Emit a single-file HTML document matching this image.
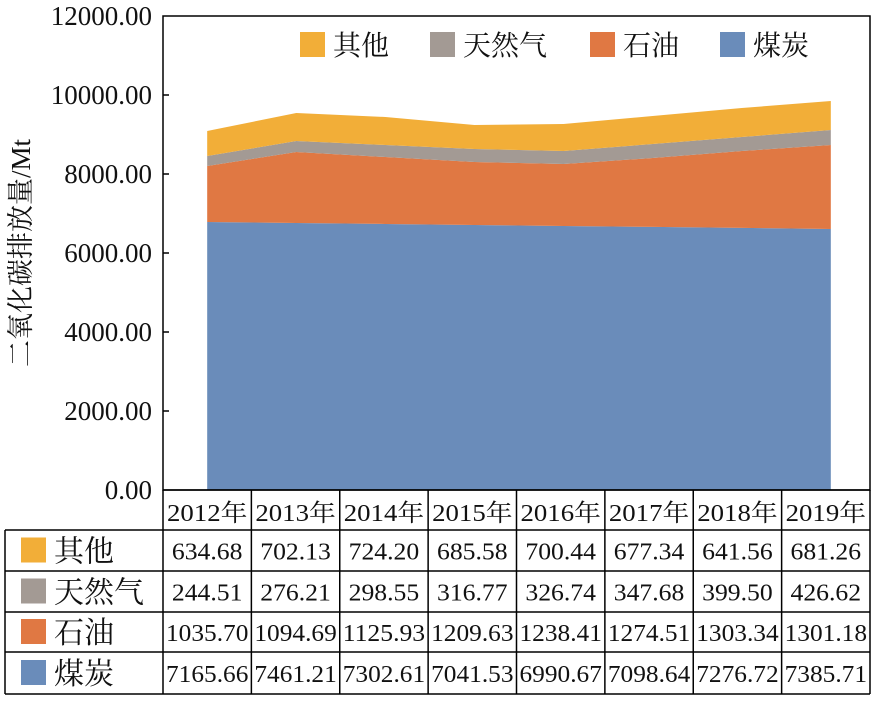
<!DOCTYPE html>
<html><head><meta charset="utf-8">
<style>
body{margin:0;background:#fff;}
svg text{font-family:"Liberation Serif","Noto Serif CJK SC",serif;fill:#111;}
</style></head>
<body>
<svg id="chart" width="873" height="697" xmlns="http://www.w3.org/2000/svg"></svg>
<script>
const years=["2012年","2013年","2014年","2015年","2016年","2017年","2018年","2019年"];
const seriesNames=["其他","天然气","石油","煤炭"];
// plotted layer thicknesses
const coalPlot=[6785,6760,6735,6710,6685,6660,6635,6608];
const oilPlot=[1418,1797,1695,1594,1568,1745,1947,2126];
const gasPlot=[253,278,304,329,329,354,355,380];
const otherPlot=[633,709,709,607,684,709,734,734];
// table values
const otherVals=["634.68","702.13","724.20","685.58","700.44","677.34","641.56","681.26"];
const gasVals=["244.51","276.21","298.55","316.77","326.74","347.68","399.50","426.62"];
const oilVals=["1035.70","1094.69","1125.93","1209.63","1238.41","1274.51","1303.34","1301.18"];
const coalVals=["7165.66","7461.21","7302.61","7041.53","6990.67","7098.64","7276.72","7385.71"];
const yTicks=[0,2000,4000,6000,8000,10000,12000];

const colors={"其他":"#F2AE38","天然气":"#A39A94","石油":"#E07843","煤炭":"#6A8CBA"};
const NS="http://www.w3.org/2000/svg";
const svg=document.getElementById('chart');
function mk(tag,attrs,parent){const e=document.createElementNS(NS,tag);for(const k in attrs)e.setAttribute(k,attrs[k]);(parent||svg).appendChild(e);return e;}
const plotL=163,plotR=870,plotT=16,plotB=490,colW=(plotR-plotL)/8;
const y=v=>plotB-(v/12000)*(plotB-plotT);
const x=i=>plotL+colW*(i+0.5)+(i/7)*5;

// stacked areas
const layers=[["煤炭",coalPlot],["石油",oilPlot],["天然气",gasPlot],["其他",otherPlot]];
let base=years.map(()=>0);
layers.forEach(([name,vals])=>{
  const top=base.map((b,i)=>b+vals[i]);
  let d="M"+x(0)+","+y(top[0]);
  for(let i=1;i<years.length;i++)d+=" L"+x(i)+","+y(top[i]);
  for(let i=years.length-1;i>=0;i--)d+=" L"+x(i)+","+y(base[i]);
  d+=" Z";
  const p=mk('path',{d:d,fill:colors[name]});
  
  
  base=top;
});

// frame
mk('rect',{x:plotL,y:plotT,width:plotR-plotL,height:plotB-plotT,fill:'none',stroke:'#000','stroke-width':1.5});
yTicks.forEach(t=>{
  if(t>0&&t<12000) mk('line',{x1:plotL,y1:y(t),x2:plotL+6,y2:y(t),stroke:'#000','stroke-width':1.5});
  const tx=mk('text',{x:152,y:y(t)+9,'text-anchor':'end','font-size':27});
  tx.textContent=t.toFixed(2);
  
  
});
const yt=mk('text',{x:0,y:0,'font-size':27,'text-anchor':'middle',transform:'translate(30,253) rotate(-90)'});
yt.textContent="二氧化碳排放量/Mt";



// legend
const legX=[300,430,590,720];
seriesNames.forEach((n,i)=>{
  const g=mk('g',{});
  
  
  mk('rect',{x:legX[i],y:32,width:25,height:25,fill:colors[n]},g);
  const t=mk('text',{x:legX[i]+33,y:55,'font-size':28},g);t.textContent=n;
});

// table
const rowY=[490,530,571,612,652,694];
const tl=5,tr=870;
const g=mk('g',{});


for(let r=0;r<rowY.length;r++){
  const x1=r===0?plotL:tl;
  mk('line',{x1:x1,y1:rowY[r],x2:tr,y2:rowY[r],stroke:'#000','stroke-width':1.5},g);
}
mk('line',{x1:tl,y1:rowY[1],x2:tl,y2:rowY[5],stroke:'#000','stroke-width':1.5},g);
for(let c=0;c<=8;c++){
  const xx=plotL+colW*c;
  mk('line',{x1:xx,y1:rowY[0],x2:xx,y2:rowY[5],stroke:'#000','stroke-width':1.5},g);
}
const cx=i=>plotL+colW*(i+0.5);
years.forEach((yr,i)=>{const t=mk('text',{x:cx(i),y:rowY[0]+31,'text-anchor':'middle','font-size':24,textLength:colW-8,lengthAdjust:'spacingAndGlyphs'},g);t.textContent=yr;});
const rows=[["其他",otherVals],["天然气",gasVals],["石油",oilVals],["煤炭",coalVals]];
rows.forEach(([n,vals],r)=>{
  const cy=(rowY[r+1]+rowY[r+2])/2;
  mk('rect',{x:21,y:cy-13,width:25,height:25,fill:colors[n]},g);
  const lt=mk('text',{x:54,y:cy+11,'font-size':30},g);lt.textContent=n;
  vals.forEach((v,i)=>{
    const a={x:cx(i),y:cy+9,'text-anchor':'middle','font-size':24};
    if(v.length>6){a.textLength=colW-6;a.lengthAdjust='spacingAndGlyphs';}
    else{a.textLength=(colW-6)*6/7;a.lengthAdjust='spacingAndGlyphs';}
    const t=mk('text',a,g);t.textContent=v;});
});
</script>
</body></html>
